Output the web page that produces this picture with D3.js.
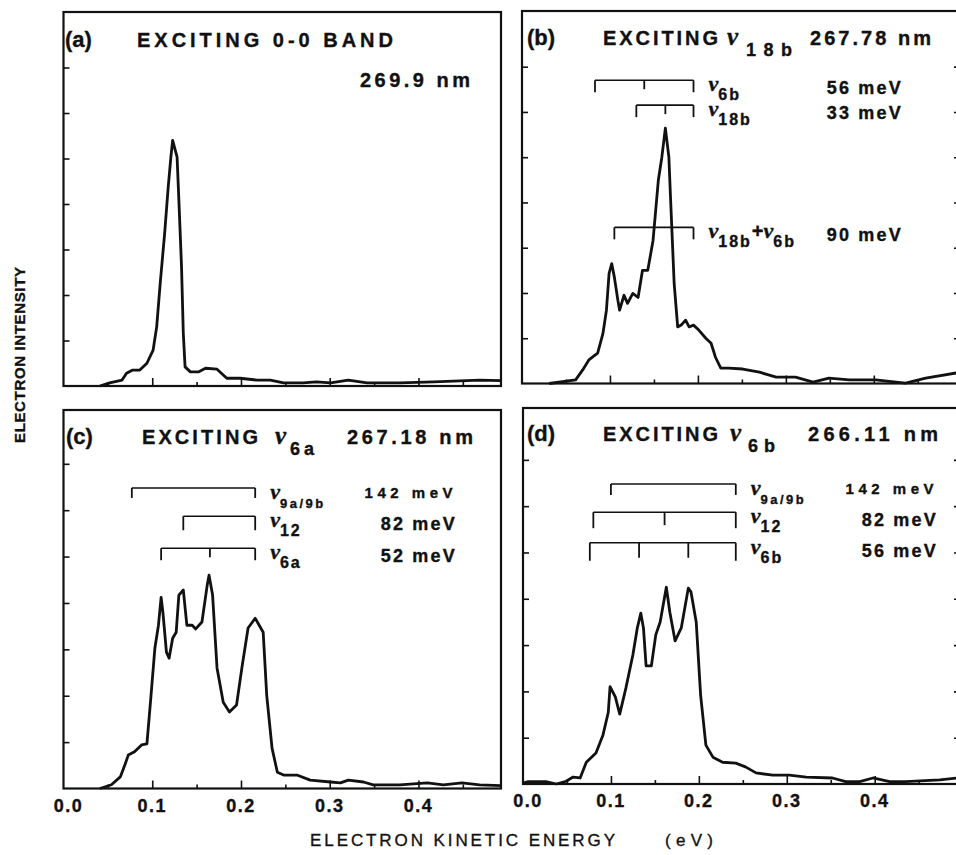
<!DOCTYPE html>
<html>
<head>
<meta charset="utf-8">
<script src="https://cdn.jsdelivr.net/npm/d3@7/dist/d3.min.js"></script>
<style>
  body { margin: 0; background: #fff; }
  text { fill: #111; stroke: #111; stroke-width: 0.35px; }
</style>
</head>
<body>
<script>
var width = 956;
var height = 855;

// axis ticks (eV along x, arbitrary intensity units along y)
var xTickValues = [0.0, 0.1, 0.2, 0.3, 0.4];
var xMinorValues = [0.05, 0.15, 0.25, 0.35, 0.45];
var yTickValues = [1, 2, 3, 4, 5, 6, 7];

// panel titles
var panelLetters = ["(a)", "(b)", "(c)", "(d)"];
var titleTexts = ["EXCITING 0-0 BAND", "EXCITING", "EXCITING", "EXCITING"];
var excitedModes = ["", "18b", "6a", "6b"];
var wavelengths = ["269.9 nm", "267.78 nm", "267.18 nm", "266.11 nm"];

// spectra: electron kinetic energy (eV) and intensity
var energyA = [0.041, 0.052, 0.066, 0.071, 0.078, 0.086, 0.094, 0.101, 0.105, 0.109, 0.114, 0.118, 0.121, 0.123, 0.128, 0.130, 0.133, 0.135, 0.137, 0.143, 0.152, 0.160, 0.173, 0.184, 0.199, 0.218, 0.233, 0.248, 0.270, 0.285, 0.301, 0.321, 0.342, 0.379, 0.417, 0.469, 0.493];
var intensityA = [0, 0.07, 0.13, 0.28, 0.35, 0.35, 0.50, 0.79, 1.30, 2.26, 3.36, 4.37, 5.03, 5.40, 5.03, 4.09, 2.62, 1.16, 0.42, 0.31, 0.31, 0.39, 0.37, 0.17, 0.17, 0.13, 0.13, 0.07, 0.07, 0.09, 0.07, 0.13, 0.07, 0.07, 0.09, 0.13, 0.12];

var energyB = [0.031, 0.061, 0.069, 0.076, 0.086, 0.092, 0.096, 0.099, 0.102, 0.105, 0.109, 0.111, 0.116, 0.120, 0.126, 0.132, 0.137, 0.143, 0.149, 0.155, 0.159, 0.163, 0.167, 0.169, 0.173, 0.177, 0.181, 0.186, 0.190, 0.195, 0.201, 0.209, 0.215, 0.220, 0.226, 0.235, 0.251, 0.270, 0.289, 0.311, 0.331, 0.349, 0.372, 0.402, 0.436, 0.459, 0.499];
var intensityB = [0, 0.08, 0.30, 0.52, 0.67, 1.10, 1.62, 2.43, 2.65, 2.35, 1.84, 1.62, 1.95, 1.77, 1.99, 1.90, 2.50, 2.50, 3.16, 4.49, 5.00, 5.64, 5.00, 4.05, 2.21, 1.25, 1.29, 1.40, 1.25, 1.29, 1.18, 1.00, 0.89, 0.58, 0.34, 0.34, 0.32, 0.25, 0.14, 0.14, 0.03, 0.12, 0.08, 0.08, 0.01, 0.12, 0.25];

var energyC = [0.041, 0.054, 0.064, 0.069, 0.073, 0.080, 0.088, 0.094, 0.098, 0.103, 0.107, 0.110, 0.112, 0.116, 0.119, 0.123, 0.127, 0.130, 0.135, 0.139, 0.145, 0.149, 0.156, 0.162, 0.164, 0.168, 0.173, 0.180, 0.187, 0.195, 0.201, 0.208, 0.216, 0.225, 0.229, 0.235, 0.241, 0.248, 0.263, 0.278, 0.301, 0.312, 0.321, 0.338, 0.349, 0.379, 0.410, 0.428, 0.449, 0.469, 0.493];
var intensityC = [0, 0.08, 0.25, 0.50, 0.72, 0.79, 0.94, 0.96, 1.86, 3.03, 3.52, 4.12, 3.80, 2.94, 2.81, 3.24, 3.37, 4.17, 4.28, 3.52, 3.52, 3.44, 3.59, 4.39, 4.60, 4.17, 2.60, 1.86, 1.65, 1.80, 2.60, 3.46, 3.67, 3.37, 2.01, 0.87, 0.35, 0.29, 0.29, 0.18, 0.14, 0.12, 0.18, 0.14, 0.08, 0.08, 0.12, 0.08, 0.12, 0.08, 0.06];

var energyD = [0.000, 0.006, 0.026, 0.038, 0.049, 0.057, 0.065, 0.072, 0.083, 0.091, 0.097, 0.099, 0.105, 0.110, 0.117, 0.125, 0.130, 0.134, 0.137, 0.140, 0.146, 0.151, 0.156, 0.163, 0.167, 0.173, 0.180, 0.188, 0.191, 0.197, 0.202, 0.208, 0.216, 0.227, 0.242, 0.253, 0.265, 0.284, 0.303, 0.322, 0.352, 0.367, 0.383, 0.398, 0.417, 0.435, 0.474, 0.495];
var intensityD = [0.02, 0.05, 0.05, 0, 0.06, 0.15, 0.13, 0.47, 0.67, 1.06, 1.55, 2.10, 1.88, 1.51, 2.07, 2.79, 3.37, 3.69, 3.37, 2.55, 2.55, 3.22, 3.50, 4.25, 3.71, 3.09, 3.37, 4.23, 4.15, 3.50, 1.92, 0.84, 0.58, 0.47, 0.45, 0.37, 0.24, 0.19, 0.19, 0.15, 0.13, 0.05, 0.05, 0.13, 0.05, 0.05, 0.09, 0.13];

// progression brackets: mode subscripts, spacing text, marker energies (eV), bracket height (intensity units)
var modesB = [["6b"], ["18b"], ["18b", "6b"]];
var spacingsB = ["56 meV", "33 meV", "90 meV"];
var marksB = [[0.083, 0.139, 0.195], [0.130, 0.163, 0.195], [0.105, 0.195]];
var levelsB = [6.70, 6.15, 3.45];

var modesC = [["9a/9b"], ["12"], ["6a"]];
var spacingsC = ["142 meV", "82 meV", "52 meV"];
var marksC = [[0.077, 0.216], [0.135, 0.216], [0.110, 0.165, 0.216]];
var levelsC = [6.48, 5.87, 5.18];

var modesD = [["9a/9b"], ["12"], ["6b"]];
var spacingsD = ["142 meV", "82 meV", "56 meV"];
var marksD = [[0.100, 0.242], [0.080, 0.161, 0.242], [0.076, 0.132, 0.188, 0.242]];
var levelsD = [6.48, 5.87, 5.21];

var spectra = [[energyA, intensityA], [energyB, intensityB], [energyC, intensityC], [energyD, intensityD]];
var brackets = [null, [modesB, spacingsB, marksB, levelsB], [modesC, spacingsC, marksC, levelsC], [modesD, spacingsD, marksD, levelsD]];

// layout of the four frames (pixels)
var frames = [
    { left: 63.5, top: 12, right: 501, bottom: 386, xMax: 0.493, yMax: 8.22 },
    { left: 522, top: 11, right: 960, bottom: 383.5, xMax: 0.498, yMax: 8.23 },
    { left: 63.5, top: 410, right: 501, bottom: 788.5, xMax: 0.493, yMax: 8.16 },
    { left: 523, top: 408, right: 960, bottom: 784, xMax: 0.497, yMax: 8.12 }
];
var titleLayout = [
    { base: 47, letterX: 65, exX: 137, exLen: 256, nmX: 360, nmLen: 110, nmBase: 87 },
    { base: 45, letterX: 527, exX: 603, exLen: 115, nuX: 727, subX: 746, subLen: 46, nmX: 810, nmLen: 121, nmBase: 45 },
    { base: 444, letterX: 66, exX: 142, exLen: 116, nuX: 275, subX: 290, subLen: 24, nmX: 347, nmLen: 126, nmBase: 444 },
    { base: 441, letterX: 527, exX: 603, exLen: 115, nuX: 730, subX: 748, subLen: 27, nmX: 808, nmLen: 130, nmBase: 441 }
];
var spacingEnd = [0, 903, 457, 938];
var bracketTickLen = [[], [12, 12, 12], [10, 14, 12], [11, 16, 18]];

var serif = "'Liberation Serif', 'DejaVu Serif', serif";
var sans = "'Liberation Sans', Arial, sans-serif";

var svg = d3.select("body").append("svg")
    .attr("width", width).attr("height", height)
    .style("font-family", sans);

function addNu(g, x, y, subs, nuSize, subSize, subGap, shift) {
    var t = g.append("text").attr("x", x).attr("y", y).attr("font-weight", "bold");
    subs.forEach(function (s, i) {
        if (i > 0) t.append("tspan").attr("dy", -shift).attr("font-size", nuSize - 2).text("+");
        t.append("tspan").attr("font-family", serif).attr("font-style", "italic")
            .attr("font-size", nuSize).text("\u03bd");
        t.append("tspan").attr("dy", shift).attr("font-size", subSize)
            .attr("letter-spacing", subGap).text(s);
    });
    return t;
}

frames.forEach(function (p, k) {
    var x = d3.scaleLinear().domain([0, p.xMax]).range([p.left, p.right]);
    var y = d3.scaleLinear().domain([0, p.yMax]).range([p.bottom, p.top]);
    var g = svg.append("g");

    // ticks, pointing into the frame
    g.append("g").attr("transform", "translate(0," + p.bottom + ")")
        .call(d3.axisBottom(x).tickValues(xTickValues.slice(1)).tickSize(-8).tickFormat(""));
    g.append("g").attr("transform", "translate(0," + p.bottom + ")")
        .call(d3.axisBottom(x).tickValues(xMinorValues).tickSize(-4).tickFormat(""));
    g.append("g").attr("transform", "translate(" + p.left + ",0)")
        .call(d3.axisLeft(y).tickValues(yTickValues).tickSize(-6).tickFormat(""));
    if (k % 2 === 1) {
        g.append("g").attr("transform", "translate(" + p.right + ",0)")
            .call(d3.axisRight(y).tickValues(yTickValues).tickSize(-6).tickFormat(""));
    }
    g.selectAll(".domain").remove();
    g.selectAll(".tick line").attr("stroke", "#111").attr("stroke-width", 1.6);

    // frame
    g.append("rect")
        .attr("x", p.left).attr("y", p.top)
        .attr("width", p.right - p.left).attr("height", p.bottom - p.top)
        .attr("fill", "none").attr("stroke", "#111").attr("stroke-width", 2.2);

    // spectrum
    var line = d3.line()
        .x(function (d) { return x(d[0]); })
        .y(function (d) { return y(d[1]); });
    g.append("path")
        .datum(d3.zip(spectra[k][0], spectra[k][1]))
        .attr("d", line)
        .attr("fill", "none").attr("stroke", "#111")
        .attr("stroke-width", 2.8).attr("stroke-linejoin", "round");

    // tick labels under the lower frames
    if (k >= 2) {
        g.selectAll("text.xl").data(xTickValues).enter().append("text")
            .attr("class", "xl")
            .text(function (d) { return d3.format(".1f")(d); })
            .attr("x", function (d) { return x(d) + (d === 0 ? 5 : 0); })
            .attr("y", p.bottom + 23)
            .attr("text-anchor", "middle")
            .attr("font-size", 18).attr("font-weight", "bold")
            .attr("letter-spacing", 1.5);
    }

    // title
    var tl = titleLayout[k];
    g.append("text").attr("x", tl.letterX).attr("y", tl.base)
        .attr("font-size", 22).attr("font-weight", "bold").text(panelLetters[k]);
    g.append("text").attr("x", tl.exX).attr("y", tl.base)
        .attr("font-size", 20).attr("font-weight", "bold")
        .attr("textLength", tl.exLen).attr("lengthAdjust", "spacing")
        .text(titleTexts[k]);
    if (excitedModes[k]) {
        g.append("text").attr("x", tl.nuX).attr("y", tl.base)
            .attr("font-family", serif).attr("font-style", "italic").attr("font-weight", "bold")
            .attr("font-size", 25).text("\u03bd");
        g.append("text").attr("x", tl.subX).attr("y", tl.base + 11)
            .attr("font-size", 18).attr("font-weight", "bold")
            .attr("textLength", tl.subLen).attr("lengthAdjust", "spacing")
            .text(excitedModes[k]);
    }
    g.append("text").attr("x", tl.nmX).attr("y", tl.nmBase)
        .attr("font-size", 20).attr("font-weight", "bold")
        .attr("textLength", tl.nmLen).attr("lengthAdjust", "spacing")
        .text(wavelengths[k]);

    // progression brackets
    var br = brackets[k];
    if (br) {
        br[2].forEach(function (marks, j) {
            var yl = y(br[3][j]);
            var len = bracketTickLen[k][j];
            var x0 = x(marks[0]), x1 = x(marks[marks.length - 1]);
            g.append("line").attr("x1", x0).attr("x2", x1).attr("y1", yl).attr("y2", yl)
                .attr("stroke", "#111").attr("stroke-width", 1.6);
            g.selectAll(null).data(marks).enter().append("line")
                .attr("x1", function (d) { return x(d); })
                .attr("x2", function (d) { return x(d); })
                .attr("y1", yl)
                .attr("y2", function (d, i) { return (i === 0 || i === marks.length - 1) ? yl + len : yl + len - 3; })
                .attr("stroke", "#111").attr("stroke-width", 1.8);
            var small = br[0][j][0].indexOf("/") >= 0;
            addNu(g, x1 + 15, yl + 11, br[0][j], 22, small ? 13 : 16, small ? 2.5 : 2, 9);
            g.append("text").attr("x", spacingEnd[k]).attr("y", yl + (small ? 10 : 14))
                .attr("text-anchor", "end")
                .attr("font-size", small ? 15 : 18).attr("font-weight", "bold")
                .attr("letter-spacing", small ? 4.5 : 2.2)
                .text(br[1][j]);
        });
    }
});

// axis titles
svg.append("text")
    .attr("transform", "translate(25,355) rotate(-90)")
    .attr("text-anchor", "middle")
    .attr("font-size", 15).attr("font-weight", "bold")
    .attr("textLength", 176).attr("lengthAdjust", "spacing")
    .text("ELECTRON  INTENSITY");
svg.append("text")
    .attr("x", 310).attr("y", 846)
    .attr("font-size", 17)
    .attr("textLength", 305).attr("lengthAdjust", "spacing")
    .text("ELECTRON KINETIC ENERGY");
svg.append("text")
    .attr("x", 665).attr("y", 846)
    .attr("font-size", 17)
    .attr("textLength", 48).attr("lengthAdjust", "spacing")
    .text("(eV)");
</script>
</body>
</html>
